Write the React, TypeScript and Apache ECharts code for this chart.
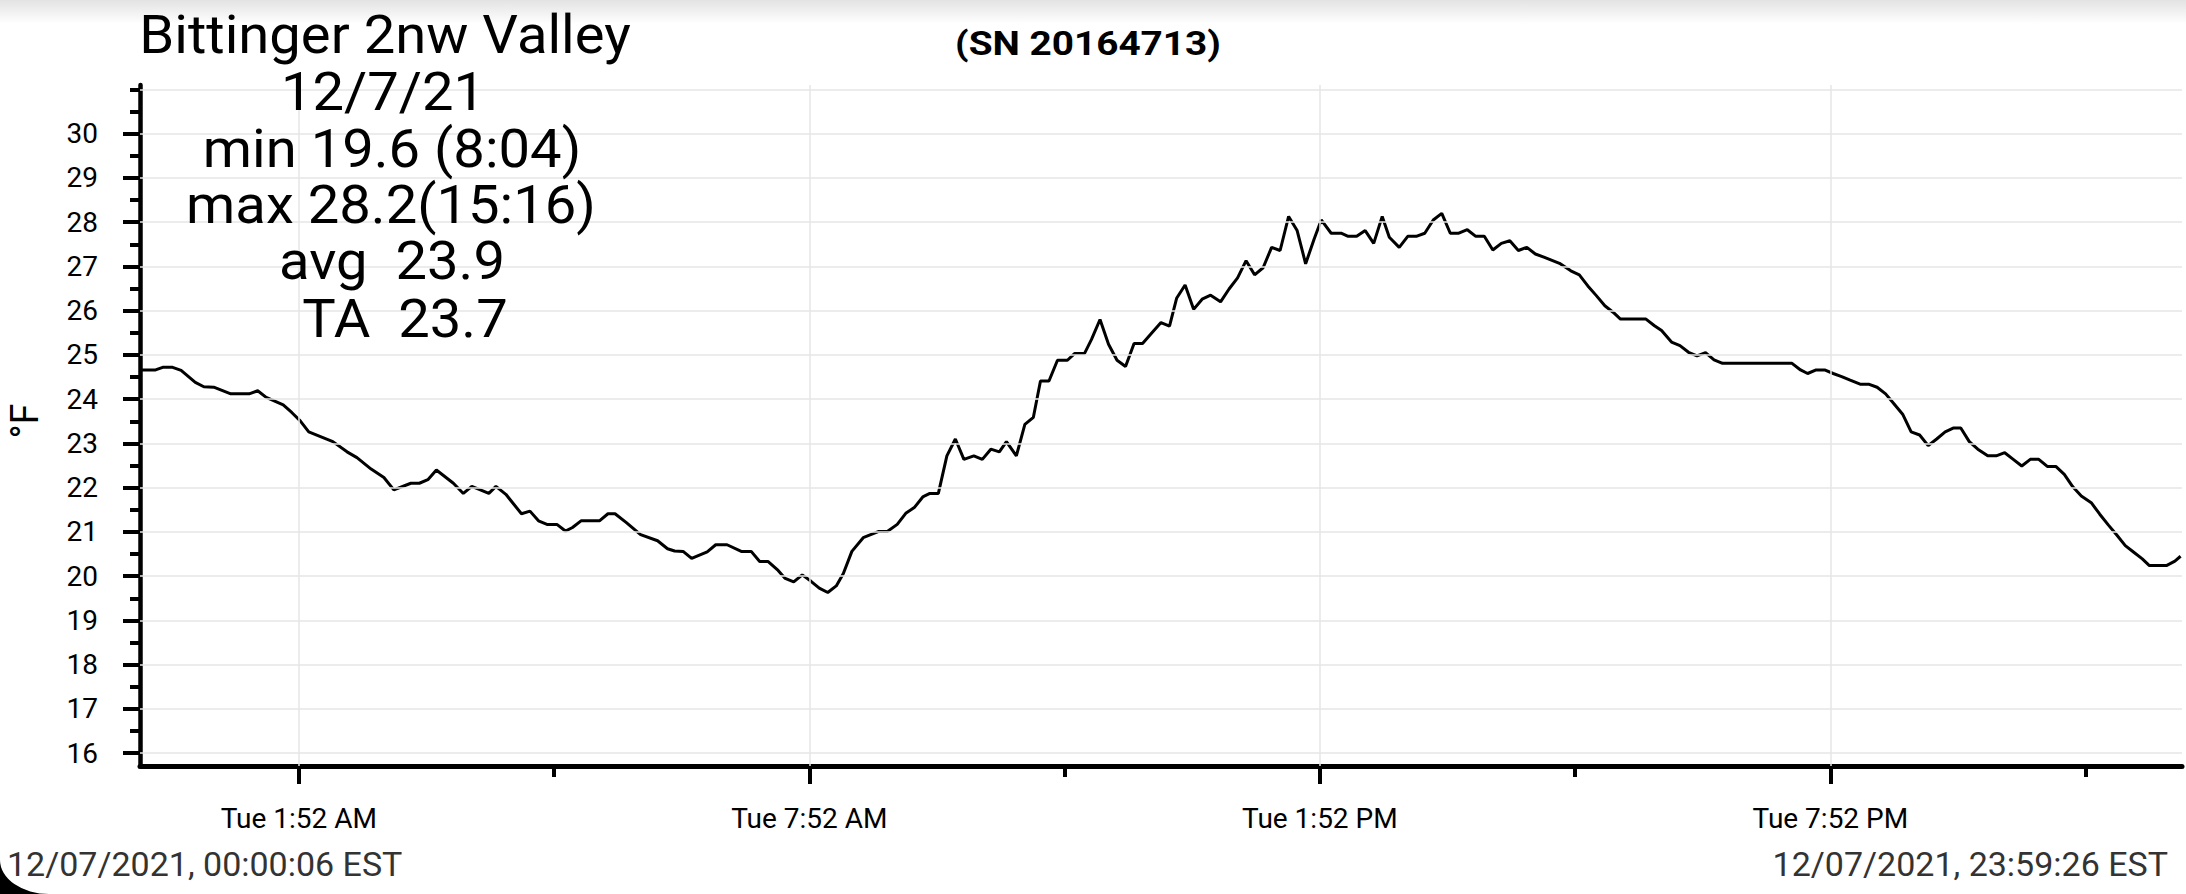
import React, { useEffect, useRef } from "react";
import * as echarts from "echarts";

// [minutes since midnight, temperature °F]
const readings: [number, number][] = [
  [0, 24.66], [11, 24.66], [16, 24.72], [23, 24.72], [29, 24.65], [39, 24.38], [45, 24.28], [52, 24.27],
  [64, 24.12], [77, 24.12], [83, 24.19], [89, 24.04], [101, 23.87], [107, 23.7], [113, 23.51], [119, 23.26],
  [136, 23.04], [146, 22.81], [153, 22.68], [163, 22.42], [172, 22.23], [179, 21.95], [191, 22.1], [197, 22.1],
  [203, 22.18], [209, 22.4], [221, 22.1], [228, 21.87], [234, 22.03], [246, 21.87], [251, 22.03], [258, 21.85],
  [269, 21.41], [275, 21.47], [281, 21.25], [287, 21.17], [294, 21.17], [300, 21.02], [305, 21.1], [311, 21.25],
  [324, 21.25], [330, 21.41], [335, 21.41], [343, 21.21], [353, 20.94], [365, 20.8], [372, 20.62], [377, 20.57],
  [383, 20.56], [389, 20.4], [400, 20.55], [406, 20.71], [414, 20.71], [424, 20.56], [431, 20.56], [437, 20.33],
  [443, 20.33], [450, 20.13], [455, 19.95], [461, 19.87], [467, 20.03], [473, 19.89], [479, 19.73], [485, 19.63],
  [491, 19.78], [496, 20.06], [502, 20.56], [510, 20.87], [521, 21.01], [527, 21.01], [534, 21.17], [540, 21.42],
  [546, 21.55], [552, 21.79], [557, 21.87], [563, 21.87], [569, 22.72], [575, 23.1], [581, 22.64], [588, 22.72],
  [594, 22.64], [600, 22.87], [606, 22.81], [611, 23.04], [618, 22.72], [624, 23.43], [630, 23.59], [635, 24.41],
  [641, 24.41], [647, 24.88], [654, 24.88], [659, 25.03], [666, 25.03], [671, 25.35], [677, 25.8], [683, 25.24],
  [689, 24.88], [695, 24.74], [701, 25.26], [707, 25.26], [713, 25.48], [720, 25.73], [726, 25.65], [731, 26.28],
  [737, 26.58], [743, 26.03], [749, 26.26], [755, 26.35], [762, 26.2], [768, 26.49], [774, 26.74], [780, 27.13],
  [786, 26.81], [792, 26.97], [798, 27.43], [804, 27.36], [810, 28.13], [816, 27.81], [822, 27.06], [828, 27.62],
  [833, 28.05], [840, 27.75], [847, 27.75], [852, 27.68], [858, 27.68], [864, 27.81], [870, 27.52], [876, 28.13],
  [881, 27.66], [888, 27.43], [894, 27.68], [900, 27.68], [906, 27.75], [912, 28.05], [918, 28.2], [924, 27.75],
  [930, 27.75], [936, 27.83], [942, 27.68], [948, 27.68], [954, 27.37], [960, 27.52], [966, 27.58], [972, 27.36],
  [978, 27.43], [984, 27.28], [990, 27.21], [1001, 27.07], [1009, 26.9], [1015, 26.81], [1021, 26.56], [1027, 26.34],
  [1033, 26.11], [1039, 25.96], [1044, 25.81], [1056, 25.81], [1062, 25.81], [1068, 25.66], [1073, 25.55], [1080, 25.29],
  [1086, 25.21], [1092, 25.06], [1098, 24.98], [1104, 25.05], [1110, 24.89], [1116, 24.81], [1165, 24.81], [1171, 24.66],
  [1176, 24.58], [1182, 24.66], [1188, 24.66], [1194, 24.58], [1200, 24.51], [1206, 24.43], [1213, 24.34], [1219, 24.34],
  [1225, 24.27], [1231, 24.12], [1237, 23.89], [1243, 23.66], [1249, 23.26], [1255, 23.19], [1261, 22.95], [1267, 23.1],
  [1273, 23.26], [1279, 23.35], [1284, 23.35], [1290, 23.04], [1296, 22.87], [1303, 22.72], [1309, 22.72], [1315, 22.79],
  [1321, 22.64], [1327, 22.49], [1333, 22.64], [1339, 22.64], [1345, 22.48], [1351, 22.48], [1357, 22.3], [1363, 22.02],
  [1369, 21.81], [1376, 21.66], [1382, 21.4], [1388, 21.16], [1394, 20.93], [1400, 20.69], [1406, 20.54], [1412, 20.39],
  [1417, 20.24], [1429, 20.24], [1435, 20.34], [1439, 20.45],
];

const yMajorTicks = [16, 17, 18, 19, 20, 21, 22, 23, 24, 25, 26, 27, 28, 29, 30];
const yMinorTicks = [16.5, 17.5, 18.5, 19.5, 20.5, 21.5, 22.5, 23.5, 24.5, 25.5, 26.5, 27.5, 28.5, 29.5, 30.5, 31];
const yGridValues = [16, 17, 18, 19, 20, 21, 22, 23, 24, 25, 26, 27, 28, 29, 30, 31];
const xTickValues = [112, 472, 832, 1192];
const xTickLabels = ["Tue 1:52 AM", "Tue 7:52 AM", "Tue 1:52 PM", "Tue 7:52 PM"];
const xMinorTicks = [292, 652, 1012, 1372];

const titleLines = ["Bittinger 2nw Valley", "12/7/21", "min 19.6 (8:04)", "max 28.2(15:16)", "avg  23.9", "TA  23.7"];
const serialText = "(SN 20164713)";
const startText = "12/07/2021, 00:00:06 EST";
const endText = "12/07/2021, 23:59:26 EST";
const yAxisName = "°F";

const FONT = "Roboto";

export default function App() {
  const ref = useRef<HTMLDivElement>(null);

  useEffect(() => {
    if (!ref.current) return;
    echarts.graphic.registerShape(
      "screenCorner",
      echarts.graphic.extendPath("M0 0 A49 34 0 0 0 49 34 L0 34 Z", {})
    );
    const chart = echarts.init(ref.current, null, { renderer: "svg" });

    const titleCenters = [385, 383, 392, 391, 392, 405];
    const titleBaselines = [53, 110, 167, 223, 279, 337];
    const titleFs = 53;

    const graphics: any[] = [
      {
        type: "rect",
        silent: true,
        z: -10,
        shape: { x: 0, y: 0, width: 2186, height: 24 },
        style: {
          fill: new echarts.graphic.LinearGradient(0, 0, 0, 1, [
            { offset: 0, color: "#e3e3e3" },
            { offset: 1, color: "#ffffff" },
          ]),
        },
      },
      ...titleLines.map((t, i) => ({
        type: "text",
        silent: true,
        z: 10,
        x: titleCenters[i],
        y: titleBaselines[i] - 0.34 * titleFs,
        scaleX: 1.06,
        style: {
          text: t,
          fontFamily: FONT,
          fontSize: titleFs,
          fill: "#000",
          align: "center",
          verticalAlign: "middle",
        },
      })),
      {
        type: "text",
        silent: true,
        z: 10,
        x: 1088,
        y: 55 - 0.34 * 34,
        scaleX: 1.14,
        style: {
          text: serialText,
          fontFamily: FONT,
          fontWeight: "bold",
          fontSize: 34,
          fill: "#000",
          align: "center",
          verticalAlign: "middle",
        },
      },
      {
        type: "text",
        silent: true,
        z: 10,
        x: 25,
        y: 421,
        rotation: Math.PI / 2,
        style: {
          text: yAxisName,
          fontFamily: FONT,
          fontSize: 38,
          lineHeight: 38,
          fill: "#000",
          align: "center",
          verticalAlign: "middle",
        },
      },
      {
        type: "screenCorner",
        silent: true,
        z: 5,
        x: 0,
        y: 860,
        shape: {},
        style: { fill: "#000" },
      },
      {
        type: "text",
        silent: true,
        z: 10,
        x: 7,
        y: 864,
        style: {
          text: startText,
          fontFamily: FONT,
          fontSize: 34,
          fill: "#333",
          align: "left",
          verticalAlign: "middle",
        },
      },
      {
        type: "text",
        silent: true,
        z: 10,
        x: 2168,
        y: 864,
        style: {
          text: endText,
          fontFamily: FONT,
          fontSize: 34,
          fill: "#333",
          align: "right",
          verticalAlign: "middle",
        },
      },
    ];

    const yMin = 15.71;
    const yMax = 31.1;

    chart.setOption({
      animation: false,
      backgroundColor: "#ffffff",
      textStyle: { fontFamily: FONT },
      grid: { left: 140, right: 4, top: 85, bottom: 128, containLabel: false, outerBoundsMode: "none" },
      xAxis: [
        {
          type: "value",
          min: 0,
          max: 1440,
          position: "bottom",
          axisLine: { show: true, onZero: false, lineStyle: { color: "#000", width: 5 } },
          axisTick: { show: true, customValues: xTickValues, length: 18, lineStyle: { color: "#000", width: 4 } },
          axisLabel: {
            show: true,
            customValues: xTickValues,
            formatter: (v: number) => {
              const i = xTickValues.indexOf(Math.round(v));
              return i >= 0 ? xTickLabels[i] : "";
            },
            fontFamily: FONT,
            fontSize: 28,
            color: "#000",
            margin: 38,
          },
          splitLine: { show: false },
        },
        {
          type: "value",
          min: 0,
          max: 1440,
          position: "bottom",
          axisLine: { show: false, onZero: false },
          axisTick: { show: true, customValues: xMinorTicks, length: 11, lineStyle: { color: "#000", width: 4 } },
          axisLabel: { show: false },
          splitLine: { show: false },
        },
      ],
      yAxis: [
        {
          type: "value",
          min: yMin,
          max: yMax,
          position: "left",
          axisLine: { show: true, onZero: false, lineStyle: { color: "#000", width: 4.5 } },
          axisTick: { show: true, customValues: yMajorTicks, length: 17, lineStyle: { color: "#000", width: 4 } },
          axisLabel: {
            show: true,
            customValues: yMajorTicks,
            fontFamily: FONT,
            fontSize: 28,
            color: "#000",
            margin: 42,
          },
          splitLine: { show: false },
        },
        {
          type: "value",
          min: yMin,
          max: yMax,
          position: "left",
          axisLine: { show: false, onZero: false },
          axisTick: { show: true, customValues: yMinorTicks, length: 10, lineStyle: { color: "#000", width: 4 } },
          axisLabel: { show: false },
          splitLine: { show: false },
        },
      ],
      graphic: graphics,
      series: [
        {
          type: "line",
          xAxisIndex: 0,
          yAxisIndex: 0,
          data: [],
          z: 1,
          silent: true,
          markLine: {
            silent: true,
            symbol: ["none", "none"],
            label: { show: false },
            lineStyle: { color: "#e6e6e6", width: 1.5, type: "solid" },
            data: [
              ...yGridValues.map((v) => ({ yAxis: v })),
              ...xTickValues.map((v) => ({ xAxis: v })),
            ],
          },
        },
        {
          type: "line",
          xAxisIndex: 0,
          yAxisIndex: 0,
          data: readings,
          z: 3,
          showSymbol: false,
          symbol: "none",
          lineStyle: { color: "#000", width: 3 },
          silent: true,
        },
      ],
    });

    return () => {
      chart.dispose();
    };
  }, []);

  return (
    <div
      ref={ref}
      style={{ position: "fixed", left: 0, top: 0, width: 2186, height: 894, background: "#fff" }}
    />
  );
}
